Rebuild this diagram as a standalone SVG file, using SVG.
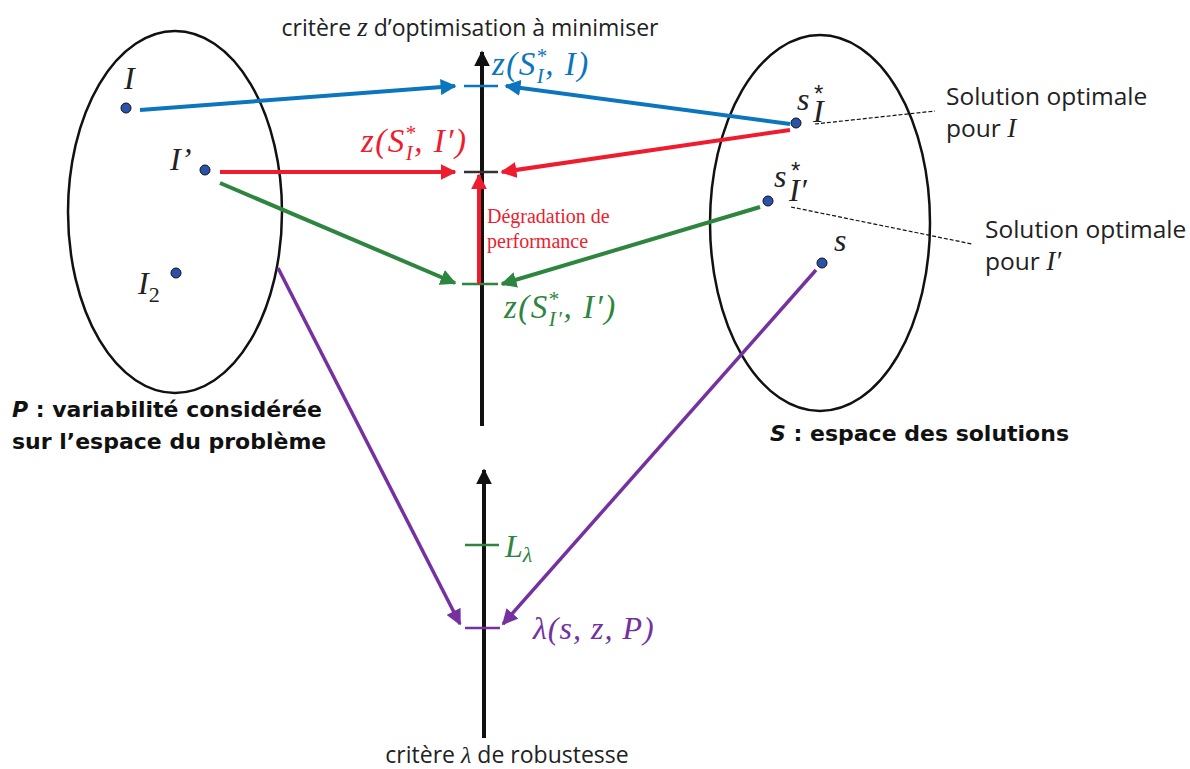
<svg xmlns="http://www.w3.org/2000/svg" width="1190" height="769" viewBox="0 0 1190 769">
<style>
.ell{fill:none;stroke:#111;stroke-width:2.5}
.pt{fill:#2a52a8;stroke:#111;stroke-width:1}
.t{font-family:"Open Sans","DejaVu Sans",sans-serif;font-size:23px;fill:#222}
.n{font-family:"Open Sans","DejaVu Sans",sans-serif;font-size:24.5px;fill:#222}
.b{font-family:"DejaVu Sans",sans-serif;font-weight:bold;font-size:22px;fill:#111}
.m{font-family:"Liberation Serif",serif;font-style:italic;font-size:32px}
.lab{font-size:33px;letter-spacing:1.5px}
.blue{stroke:#0b75bd;fill:none;stroke-width:4}
.red{stroke:#ee1c2e;fill:none;stroke-width:4}
.green{stroke:#2e8540;fill:none;stroke-width:4}
.purple{stroke:#7531a0;fill:none;stroke-width:3.5}
.axis{stroke:#111;stroke-width:4;fill:none}
.dash{stroke:#111;stroke-width:1.2;stroke-dasharray:4 2;fill:none}
</style>
<defs>
<marker id="ab" viewBox="0 0 10 10" refX="9" refY="5" markerWidth="4" markerHeight="4" orient="auto" markerUnits="strokeWidth"><path d="M0,0 L10,5 L0,10 z" fill="#0b75bd"/></marker>
<marker id="ar" viewBox="0 0 10 10" refX="9" refY="5" markerWidth="4" markerHeight="4" orient="auto" markerUnits="strokeWidth"><path d="M0,0 L10,5 L0,10 z" fill="#ee1c2e"/></marker>
<marker id="ag" viewBox="0 0 10 10" refX="9" refY="5" markerWidth="4" markerHeight="4" orient="auto" markerUnits="strokeWidth"><path d="M0,0 L10,5 L0,10 z" fill="#2e8540"/></marker>
<marker id="ap" viewBox="0 0 10 10" refX="9" refY="5" markerWidth="4.5" markerHeight="4.5" orient="auto" markerUnits="strokeWidth"><path d="M0,0 L10,5 L0,10 z" fill="#7531a0"/></marker>
<marker id="ak" viewBox="0 0 10 10" refX="9" refY="5" markerWidth="4" markerHeight="4" orient="auto" markerUnits="strokeWidth"><path d="M0,0 L10,5 L0,10 z" fill="#111"/></marker>
</defs>

<g id="P-space">
<ellipse class="ell" cx="175" cy="212" rx="107" ry="181"/>
<text class="b" x="12" y="417"><tspan font-style="italic">P</tspan> : variabilité considérée</text>
<text class="b" x="12" y="449">sur l’espace du problème</text>
</g>
<g id="S-space">
<ellipse class="ell" cx="820" cy="223" rx="110" ry="188"/>
<text class="b" x="770" y="441"><tspan font-style="italic">S</tspan> : espace des solutions</text>
</g>

<g id="axis-z">
<line class="axis" x1="482" y1="426" x2="482" y2="52" marker-end="url(#ak)"/>
<text class="t" x="470" y="36" text-anchor="middle">critère <tspan font-family="Liberation Serif,serif" font-style="italic" font-size="27">z</tspan>  d’optimisation à minimiser</text>
</g>
<g id="axis-lambda">
<line class="axis" x1="484" y1="738" x2="484" y2="470" marker-end="url(#ak)"/>
<text class="t" x="507" y="763" text-anchor="middle" font-size="24">critère <tspan font-family="Liberation Serif,serif" font-style="italic" font-size="24">λ</tspan> de robustesse</text>
</g>

<g id="node-I"><circle class="pt" cx="126" cy="108" r="5"/><text class="m" x="124" y="89" fill="#222">I</text></g>
<g id="node-Ip"><circle class="pt" cx="205" cy="170" r="5"/><text class="m" x="170" y="170" fill="#222">I’</text></g>
<g id="node-I2"><circle class="pt" cx="176" cy="273" r="5"/><text class="m" x="138" y="294" fill="#222">I<tspan font-size="22" font-style="normal" dy="8">2</tspan></text></g>
<g id="node-sI"><circle class="pt" cx="796" cy="123" r="5"/>
<text class="m" x="797" y="110" fill="#222">s</text>
<text class="m" x="813" y="122" fill="#222" font-size="24">I</text>
<text x="814" y="102" font-family="Liberation Sans,sans-serif" font-size="24" fill="#222">*</text></g>
<g id="node-sIp"><circle class="pt" cx="768" cy="201" r="5"/>
<text class="m" x="774" y="187" fill="#222">s</text>
<text class="m" x="789" y="201" fill="#222" font-size="24">I′</text>
<text x="791" y="179" font-family="Liberation Sans,sans-serif" font-size="24" fill="#222">*</text></g>
<g id="node-s"><circle class="pt" cx="822" cy="263" r="5"/><text class="m" x="834" y="251" fill="#222">s</text></g>

<g id="note-sI">
<text class="n" x="946" y="105">Solution optimale</text>
<text class="n" x="946" y="137">pour <tspan font-family="Liberation Serif,serif" font-style="italic" font-size="27">I</tspan></text>
</g>
<g id="note-sIp">
<text class="n" x="985" y="238">Solution optimale</text>
<text class="n" x="985" y="270">pour <tspan font-family="Liberation Serif,serif" font-style="italic" font-size="27">I′</tspan></text>
</g>

<g id="ticks">
<line x1="464" y1="86" x2="498" y2="86" stroke="#0b75bd" stroke-width="2.5"/>
<line x1="464" y1="172" x2="498" y2="172" stroke="#333" stroke-width="2.5"/>
<line x1="462" y1="284" x2="498" y2="284" stroke="#2e8540" stroke-width="2.5"/>
<line x1="465" y1="545" x2="499" y2="545" stroke="#2e8540" stroke-width="2.5"/>
<line x1="465" y1="628" x2="500" y2="628" stroke="#7531a0" stroke-width="2.5"/>
</g>

<g id="labels">
<text class="m lab" x="492" y="75" fill="#0b75bd">z(S<tspan font-size="21" font-style="normal" dy="-12">*</tspan><tspan font-size="21" dx="-12" dy="20">I</tspan><tspan dy="-8">, I)</tspan></text>
<text class="m lab" x="361" y="152" fill="#ee1c2e">z(S<tspan font-size="21" font-style="normal" dy="-12">*</tspan><tspan font-size="21" dx="-12" dy="20">I</tspan><tspan dy="-8">, I′)</tspan></text>
<text x="487" y="223" font-family="Liberation Serif,serif" font-size="20" fill="#ee1c2e">Dégradation de</text>
<text x="487" y="248" font-family="Liberation Serif,serif" font-size="20" fill="#ee1c2e">performance</text>
<text class="m lab" x="504" y="318" fill="#2e8540">z(S<tspan font-size="21" font-style="normal" dy="-12">*</tspan><tspan font-size="21" dx="-12" dy="20">I′</tspan><tspan dy="-8">, I′)</tspan></text>
<text class="m" x="505" y="557" fill="#2e8540">L<tspan font-size="22" dy="5">λ</tspan></text>
<text class="m" x="533" y="639" fill="#7531a0" letter-spacing="1">λ(s, z, P)</text>
</g>

<g id="connectors">
<line class="blue" x1="140" y1="110" x2="455" y2="86" marker-end="url(#ab)"/>
<line class="blue" x1="790" y1="124" x2="506" y2="86" marker-end="url(#ab)"/>
<line class="red" x1="220" y1="172" x2="455" y2="172" marker-end="url(#ar)"/>
<line class="red" x1="790" y1="130" x2="502" y2="172" marker-end="url(#ar)"/>
<line class="red" x1="479" y1="284" x2="479" y2="175" marker-end="url(#ar)"/>
<line class="green" x1="220" y1="183" x2="455" y2="283" marker-end="url(#ag)"/>
<line class="green" x1="760" y1="207" x2="502" y2="284" marker-end="url(#ag)"/>
<line class="purple" x1="278" y1="268" x2="460" y2="624" marker-end="url(#ap)"/>
<line class="purple" x1="816" y1="270" x2="503" y2="624" marker-end="url(#ap)"/>
<line class="dash" x1="815" y1="124" x2="935" y2="111"/>
<line class="dash" x1="791" y1="207" x2="972" y2="244"/>
</g>
</svg>
